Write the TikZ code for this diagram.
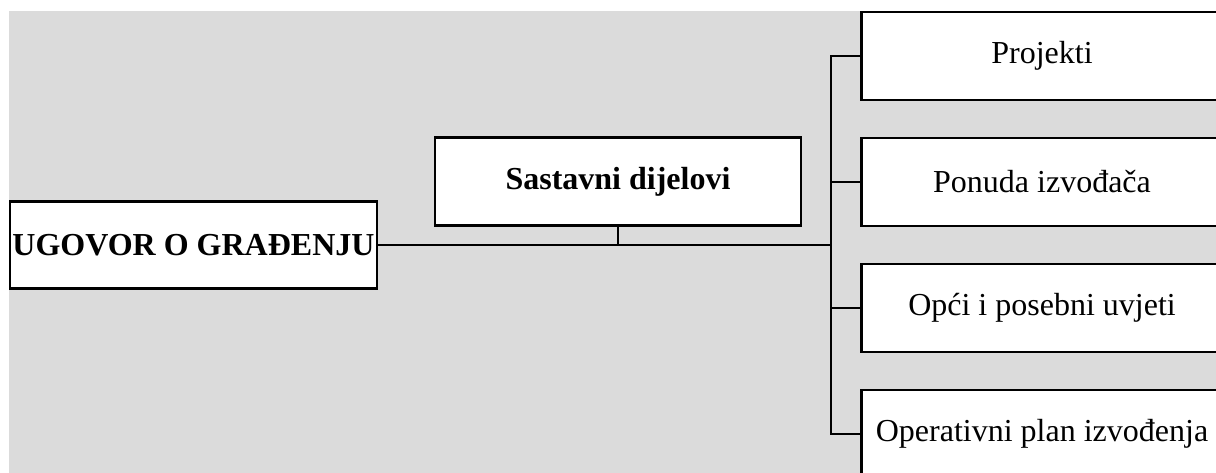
\documentclass[tikz,border=0pt]{standalone}
\usepackage{fontspec}
\setmainfont{Liberation Serif}
\definecolor{bggray}{HTML}{DBDBDB}
\begin{document}
\begin{tikzpicture}[x=1pt,y=-1pt,
  box/.style={draw=black, fill=white, line width=2.6pt, inner sep=0pt,
    font=\fontsize{32}{38}\selectfont},
  link/.style={draw=black, line width=2.6pt}]
\useasboundingbox (0,0) rectangle (1216,472);
\clip (0,0) rectangle (1216,472);
\fill[bggray] (9,11) rectangle (1220,480);
\node[box, minimum width=367pt, minimum height=87pt, font=\fontsize{32}{38}\selectfont\bfseries] (ugovor) at (193.5,245) {UGOVOR O GRAĐENJU};
\node[box, minimum width=366pt, minimum height=88pt, font=\fontsize{32}{38}\selectfont\bfseries] (sast) at (618,181.5) {Sastavni dijelovi};
\node[box, minimum width=361pt, minimum height=88pt] (p1) at (1042,56) {Projekti};
\node[box, minimum width=361pt, minimum height=88pt] (p2) at (1042,182) {Ponuda izvođača};
\node[box, minimum width=361pt, minimum height=88pt] (p3) at (1042,308) {Opći i posebni uvjeti};
\node[box, minimum width=361pt, minimum height=88pt] (p4) at (1042,434) {Operativni plan izvođenja};
\coordinate (busx) at (831,0);
\draw[link] (ugovor.east) -- (ugovor.east -| busx);
\draw[link] (sast.south) -- (sast.south |- ugovor.east);
\draw[link] (p1.west) -| (busx |- p4.west) -- (p4.west);
\draw[link] (p2.west) -- (p2.west -| busx);
\draw[link] (p3.west) -- (p3.west -| busx);
\end{tikzpicture}
\end{document}
